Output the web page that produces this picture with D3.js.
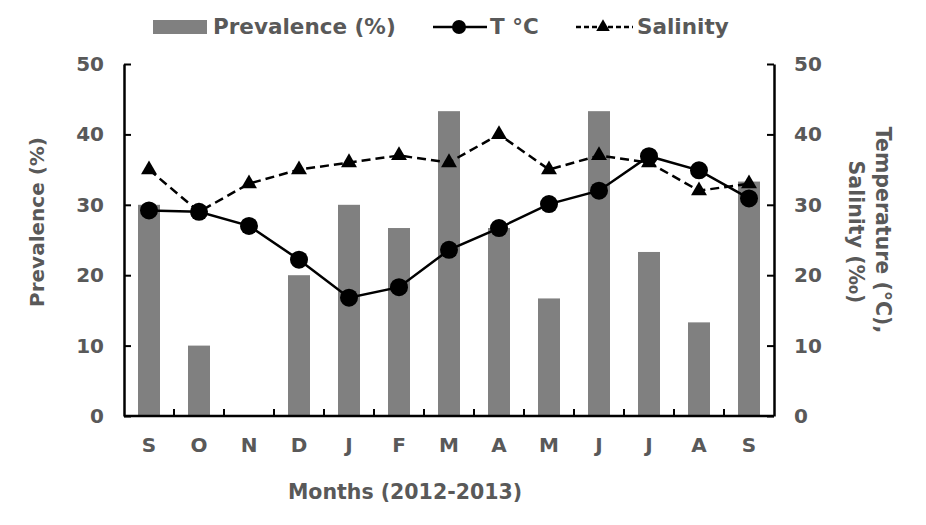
<!DOCTYPE html>
<html><head><meta charset="utf-8">
<script src="https://cdn.jsdelivr.net/npm/d3@7"></script>
<style>body{margin:0;background:#fff}</style>
</head><body>
<svg id="c" width="926" height="525"></svg>
<script>
const months = ["S","O","N","D","J","F","M","A","M","J","J","A","S"];
const prevalence = [30,10,0,20,30,26.7,43.3,26.7,16.7,43.3,23.3,13.3,33.3];
const temperature = [29.2,29,27,22.2,16.8,18.3,23.6,26.7,30.1,32,36.9,34.9,30.9];
const salinity = [35,29,33,35,36,37,36,40,35,37,36,32,33];
const yTicks = [0,10,20,30,40,50];

const svg = d3.select("#c");
const L=124,R=774,T=64,B=416;
const idx = months.map((d,i)=>i);
const x = d3.scaleBand().domain(idx).range([L,R]);
const y = d3.scaleLinear().domain([0,50]).range([B,T]);
const y2 = d3.scaleLinear().domain([0,50]).range([B,T]);
const gray="#595959";
const FF="'DejaVu Sans', Verdana, sans-serif";
const tickFont=`bold 20px ${FF}`;
const titleFont=`bold 20.5px ${FF}`;

// bars
svg.append("g").selectAll("rect").data(prevalence).join("rect")
  .attr("x",(d,i)=>x(i)+x.bandwidth()/2-11).attr("width",22)
  .attr("y",d=>y(d)).attr("height",d=>B-y(d)).attr("fill","#808080");

// axes
const gl = svg.append("g").attr("transform",`translate(${L},0)`)
  .call(d3.axisLeft(y).tickValues(yTicks).tickSizeInner(-7).tickSizeOuter(0).tickPadding(20));
const gr = svg.append("g").attr("transform",`translate(${R},0)`)
  .call(d3.axisRight(y2).tickValues(yTicks).tickSizeInner(-7).tickSizeOuter(0).tickPadding(20));
const bounds = d3.range(1,months.length);
const gb = svg.append("g").attr("transform",`translate(0,${B})`)
  .call(d3.axisBottom(x).tickFormat(i=>months[i]).tickSize(0).tickPadding(22));
gb.selectAll(".tick text").attr("dy","0.71em");
svg.append("g").selectAll("line").data(bounds).join("line")
  .attr("x1",i=>x(i)).attr("x2",i=>x(i)).attr("y1",B).attr("y2",B-7)
  .attr("stroke","#000").attr("stroke-width",2);
[gl,gr,gb].forEach(g=>{
  g.selectAll(".domain").attr("stroke","#000").attr("stroke-width",2.5);
  g.selectAll(".tick line").attr("stroke","#000").attr("stroke-width",2);
  g.selectAll(".tick text").style("font",tickFont).attr("fill",gray);
});
gb.select(".domain").attr("d",`M${L},0H${R}`);

// lines
const lineT = d3.line().x((d,i)=>x(i)+x.bandwidth()/2).y(d=>y2(d));
svg.append("path").datum(salinity).attr("d",lineT).attr("fill","none")
  .attr("stroke","#000").attr("stroke-width",2.5).attr("stroke-dasharray","9,5");
svg.append("path").datum(temperature).attr("d",lineT).attr("fill","none")
  .attr("stroke","#000").attr("stroke-width",2.5);
const tri = d3.symbol().type(d3.symbolTriangle).size(110);
svg.append("g").selectAll("path").data(salinity).join("path")
  .attr("d",tri).attr("transform",(d,i)=>`translate(${x(i)+x.bandwidth()/2},${y2(d)})`).attr("fill","#000");
svg.append("g").selectAll("circle").data(temperature).join("circle")
  .attr("cx",(d,i)=>x(i)+x.bandwidth()/2).attr("cy",d=>y2(d)).attr("r",9).attr("fill","#000");

// axis titles
svg.append("text").attr("transform","translate(37,222) rotate(-90)").attr("text-anchor","middle")
  .attr("dominant-baseline","central").style("font",`bold 20px ${FF}`).attr("fill",gray).text("Prevalence (%)");
svg.append("text").attr("transform","translate(883,230) rotate(90)").attr("text-anchor","middle")
  .attr("dominant-baseline","central").style("font",titleFont).attr("fill",gray).text("Temperature (°C),");
svg.append("text").attr("transform","translate(856,232) rotate(90)").attr("text-anchor","middle")
  .attr("dominant-baseline","central").style("font",titleFont).attr("fill",gray).text("Salinity (‰)");
svg.append("text").attr("x",405).attr("y",499).attr("text-anchor","middle")
  .style("font",titleFont).attr("fill",gray).text("Months (2012-2013)");

// legend
const lg = svg.append("g");
const lf = `bold 21.5px ${FF}`;
lg.append("rect").attr("x",153).attr("y",20).attr("width",54).attr("height",14).attr("fill","#808080");
lg.append("text").attr("x",213).attr("y",34).style("font",lf).attr("fill",gray).text("Prevalence (%)");
lg.append("line").attr("x1",433).attr("x2",487).attr("y1",27).attr("y2",27).attr("stroke","#000").attr("stroke-width",2.5);
lg.append("circle").attr("cx",459).attr("cy",27).attr("r",7).attr("fill","#000");
lg.append("text").attr("x",490).attr("y",34).style("font",lf).attr("fill",gray).text("T °C");
lg.append("line").attr("x1",576).attr("x2",633).attr("y1",27).attr("y2",27).attr("stroke","#000").attr("stroke-width",2.5).attr("stroke-dasharray","5,3");
lg.append("path").attr("d",d3.symbol().type(d3.symbolTriangle).size(80)).attr("transform","translate(603,27)").attr("fill","#000");
lg.append("text").attr("x",637).attr("y",34).style("font",lf).attr("fill",gray).text("Salinity");
</script>
</body></html>
